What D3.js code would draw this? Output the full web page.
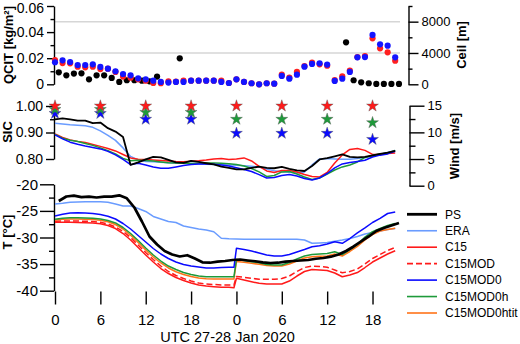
<!DOCTYPE html>
<html><head><meta charset="utf-8">
<script src="https://cdn.jsdelivr.net/npm/d3@7"></script>
<style>body{margin:0;background:#fff}svg{display:block}</style>
</head><body><svg id="c" width="520" height="344"></svg>
<script>
// ---------- DATA ----------
const hours = [0,1,2,3,4,5,6,7,8,9,10,11,12,13,14,15,16,17,18,19,20,21,22,23,24,25,26,27,28,29,30,31,32,33,34,35,36,37,38,39,40,41,42,43,44,45];
const psHours = [0.5,1.5,2.5,3.5,4.5,5.5,6.5,7.5,8.5,9.5,10.5,11.5,12.5,13.5,14.5,15.5,16.5,17.5,18.5,19.5,20.5,21.5,22.5,23.5,24.5,25.5,26.5,27.5,28.5,29.5,30.5,31.5,32.5,33.5,34.5,35.5,36.5,37.5,38.5,39.5,40.5,41.5,42.5,43.5,44.5,45.5];
const modelHours = [0,1,2,3,4,5,6,7,8,9,10,11,12,13,14,15,16,17,18,19,20,21,22,23,23.67,24,25,26,27,28,29,30,31,32,33,34,35,36,37,38,39,40,41,42,43,44,45];
const xTicks = [0,6,12,18,24,30,36,42];

// top panel: QCIT [kg/m2]
const qcitPSHours = [0.5,1.5,2.5,3.5,4.5,5.5,6.5,7.5,8.5,9.5,10.5,11.5,12.5,13.5,16.5,38.5,39.5,40.5,41.5,42.5,43.5,44.5,45.5];
const qcitPS = [0.0092,0.0069,0.0082,0.0084,0.0038,0.0069,0.0069,0.0049,0.0018,0.0031,0.0031,0.0028,0.0023,0.0059,0.0199,0.0322,0.0031,0.0015,0.0008,0.0003,0.0003,0.0003,0.0003];
const qcitC15 = [0.0186,0.0163,0.0161,0.0135,0.0130,0.0135,0.0117,0.0120,0.0095,0.0059,0.0051,0.0038,0.0028,0.0010,0.0008,0.0023,0.0020,0.0028,0.0028,0.0028,0.0028,0.0028,0.0028,0.0010,0.0038,0.0018,0.0008,0.0000,0.0008,0.0005,0.0074,0.0051,0.0095,0.0140,0.0166,0.0153,0.0143,0.0033,0.0061,0.0105,0.0209,0.0217,0.0352,0.0276,0.0245,0.0181];
const qcitC15MOD0 = [0.0169,0.0184,0.0171,0.0148,0.0148,0.0153,0.0133,0.0120,0.0100,0.0079,0.0069,0.0046,0.0038,0.0028,0.0018,0.0013,0.0018,0.0018,0.0028,0.0028,0.0028,0.0028,0.0018,0.0010,0.0038,0.0018,0.0008,0.0000,0.0008,0.0005,0.0064,0.0043,0.0074,0.0135,0.0156,0.0161,0.0151,0.0026,0.0043,0.0095,0.0207,0.0209,0.0378,0.0306,0.0296,0.0207];
const qcitTicks = [0,0.02,0.04,0.06];
const ceilTicks = [0,4000,8000];

// middle panel: wind [m/s] and SIC stars
const windPS = [12.44,12.63,12.44,12.22,12.22,11.73,11.84,10.79,10.15,9.15,3.89,4.36,4.92,5.39,5.30,4.83,4.36,4.27,4.64,4.45,4.21,3.98,3.57,3.33,3.05,3.05,3.33,3.57,3.33,3.27,3.52,3.14,2.89,2.76,3.70,4.92,5.15,5.49,5.86,5.39,5.30,5.39,5.68,5.96,6.20,6.52];
const windERA = [11.69,11.56,11.41,11.32,11.22,10.94,10.28,9.44,8.50,7.09,5.49,4.83,4.55,4.49,4.40,4.32,4.27,4.21,4.14,4.08,4.02,3.98,3.93,3.89,3.83,3.76,3.65,3.52,3.14,2.82,2.63,2.52,2.39,2.58,3.89,5.02,5.11,5.02,4.96,4.96,5.11,5.30,5.58,5.86,6.24,6.62];
const windC15 = [9.72,9.06,8.59,8.31,8.12,7.74,7.37,6.99,6.52,5.86,5.21,4.96,4.92,4.83,4.74,4.64,4.55,4.51,4.59,4.68,4.83,5.02,5.11,4.92,5.02,5.21,4.64,3.61,2.76,2.48,2.86,2.86,2.58,2.11,1.73,1.64,2.48,4.27,5.77,6.80,6.99,6.62,5.86,5.86,6.05,6.15];
const windC15MOD0 = [9.53,8.78,8.16,7.78,7.46,7.18,6.90,6.43,5.77,4.92,3.95,4.21,3.89,3.52,3.27,3.27,3.52,3.80,3.98,4.08,4.08,4.02,3.89,3.70,3.38,3.05,2.67,2.07,1.45,1.54,1.92,2.11,1.82,1.35,1.07,1.45,2.29,3.33,4.08,4.36,4.55,4.77,5.39,5.73,5.96,6.43];
const windC15MOD0h = [9.62,8.91,8.53,8.27,7.93,7.56,7.09,6.58,5.96,5.11,4.70,4.79,4.74,4.61,4.45,4.32,4.27,4.21,4.17,4.21,4.27,4.27,4.21,4.12,3.98,3.70,3.23,2.58,1.73,1.92,2.58,2.67,2.20,1.64,1.17,1.45,2.20,2.95,3.52,3.89,4.45,5.30,5.68,5.96,6.09,6.62];
const starHours = [0,6,12,18,24,30,36,42];
const sicC15 = [1.0,1.0,1.0,1.0,1.0,1.0,1.0,1.0];
const sicC15MOD0h = [0.987,0.987,0.976,0.976,0.95,0.95,0.95,0.937];
const sicC15MOD0 = [0.972,0.972,0.95,0.95,0.897,0.897,0.897,0.874];
const sicTicks = [0.8,0.9,1.0];
const windTicks = [0,5,10,15];

// bottom panel: T [°C]
const tPS = [-23.14,-22.29,-22.14,-22.42,-22.33,-22.48,-22.33,-22.33,-22.07,-22.63,-24.36,-26.99,-29.81,-31.32,-32.54,-33.20,-33.57,-33.33,-33.95,-34.66,-34.74,-34.55,-34.42,-34.23,-34.14,-34.32,-34.47,-34.66,-34.79,-34.74,-34.55,-34.42,-34.32,-34.23,-34.00,-33.85,-33.61,-33.20,-32.54,-31.69,-30.75,-29.81,-28.78,-28.21,-27.74,-27.27];
const tERA = [-23.70,-23.57,-23.38,-23.33,-23.29,-23.27,-23.27,-23.36,-23.70,-24.08,-24.08,-24.55,-25.11,-26.05,-26.52,-26.99,-27.18,-27.84,-28.12,-28.40,-28.59,-28.91,-30.15,-30.24,-30.28,-30.34,-30.34,-30.34,-30.34,-30.34,-30.34,-30.34,-30.34,-30.47,-31.09,-31.03,-30.94,-30.71,-30.47,-30.19,-29.81,-29.34,-29.06,-28.78,-28.50,-28.31];
const tC15 = [-27.14,-27.14,-27.14,-27.18,-27.22,-27.27,-27.42,-27.74,-28.31,-29.25,-30.47,-31.88,-33.29,-34.61,-35.83,-36.77,-37.52,-38.08,-38.55,-38.93,-39.12,-39.25,-39.36,-39.36,-39.44,-37.67,-37.99,-38.31,-38.61,-38.74,-38.74,-38.74,-38.18,-37.24,-36.39,-36.02,-36.11,-36.20,-36.67,-37.37,-37.05,-36.58,-35.64,-34.61,-33.85,-33.10,-32.48];
const tC15MOD = [-26.95,-26.90,-26.90,-26.90,-26.94,-26.99,-27.14,-27.46,-28.03,-28.87,-30.00,-31.41,-32.82,-34.14,-35.36,-36.39,-37.14,-37.71,-38.18,-38.55,-38.74,-38.83,-38.93,-38.93,-38.93,-37.33,-37.48,-37.67,-37.86,-37.86,-37.86,-37.71,-37.24,-36.39,-35.64,-35.36,-35.45,-35.60,-36.11,-36.62,-36.39,-35.92,-34.98,-33.95,-33.20,-32.44,-31.88];
const tC15MOD0 = [-25.96,-25.62,-25.39,-25.34,-25.39,-25.49,-25.68,-26.00,-26.52,-27.37,-28.40,-29.62,-30.85,-32.07,-33.10,-33.95,-34.61,-35.08,-35.36,-35.55,-35.73,-35.73,-35.64,-35.60,-35.60,-32.03,-32.26,-32.54,-32.91,-33.29,-33.48,-33.48,-33.20,-32.73,-32.26,-31.73,-31.54,-31.22,-30.79,-31.09,-30.19,-29.15,-28.21,-27.18,-26.39,-25.49,-25.21];
const tC15MOD0h = [-26.58,-26.39,-26.30,-26.28,-26.33,-26.39,-26.52,-26.80,-27.27,-28.12,-29.25,-30.56,-31.97,-33.29,-34.42,-35.36,-36.02,-36.58,-36.95,-37.24,-37.37,-37.37,-37.37,-37.37,-37.37,-34.14,-34.32,-34.55,-34.74,-35.08,-35.17,-35.17,-34.70,-34.04,-33.48,-33.20,-33.10,-33.01,-32.67,-33.20,-32.26,-31.32,-29.91,-28.91,-28.31,-27.74,-27.37];
const tC15MOD0htit = [-26.71,-26.58,-26.52,-26.52,-26.56,-26.62,-26.75,-27.05,-27.56,-28.40,-29.59,-30.94,-32.35,-33.67,-34.79,-35.73,-36.43,-36.95,-37.33,-37.61,-37.74,-37.80,-37.80,-37.80,-37.80,-34.51,-34.66,-34.85,-35.04,-35.26,-35.36,-35.36,-34.98,-34.42,-33.85,-33.61,-33.53,-33.48,-33.10,-33.48,-32.63,-31.69,-30.47,-29.44,-28.78,-28.50,-28.27];
const tTicks = [-40,-35,-30,-25,-20];

const legendNames = ["PS","ERA","C15","C15MOD","C15MOD0","C15MOD0h","C15MOD0htit"];

// ---------- STYLE ----------
const FONT = '"Liberation Sans", Arial, sans-serif';
const C = {PS:"#000000", ERA:"#6a9cff", C15:"#ff1a1a", C15MOD:"#ff1a1a", C15MOD0:"#0a0aff", C15MOD0h:"#1e9a3a", C15MOD0htit:"#ff7318"};

const svg = d3.select("#c").style("font-family", FONT);

const x = d3.scaleLinear().domain([0,45]).range([55,395.2]);
const yQ = d3.scaleLinear().domain([0,0.06]).range([84.3,6]);
const yCeil = d3.scaleLinear().domain([0,10000]).range([84.3,6]);
const ySIC = d3.scaleLinear().domain([0.8,1.0]).range([159,106]);
const yW = d3.scaleLinear().domain([0,15]).range([185.7,105.7]);
const yT = d3.scaleLinear().domain([-40,-20]).range([290.7,184.3]);

function yAxis(scale, xpos, side, major, minor, majSize, minSize, fmt, fs, pad){
  const mk = side === "left" ? d3.axisLeft : d3.axisRight;
  const g = svg.append("g").attr("transform", `translate(${xpos},0)`);
  g.call(mk(scale).tickValues(major).tickSize(majSize).tickSizeOuter(0).tickPadding(pad).tickFormat(fmt));
  const m = svg.append("g").attr("transform", `translate(${xpos},0)`);
  m.call(mk(scale).tickValues(minor).tickSize(minSize).tickFormat(""));
  m.select(".domain").remove();
  [g,m].forEach(a => {
    a.selectAll("line").attr("stroke","#000").attr("stroke-width",1.4);
    a.selectAll(".domain").attr("stroke","#000").attr("stroke-width",1.4);
    a.selectAll("text").attr("fill","#000").style("font-size", fs+"px").style("font-family", FONT);
  });
  return g;
}

// gridlines (top panel)
svg.append("g").selectAll("line").data([4000,8000]).join("line")
  .attr("x1", x(0)).attr("x2", 400)
  .attr("y1", d => yCeil(d)).attr("y2", d => yCeil(d))
  .attr("stroke","#d6d6d6").attr("stroke-width",1.5);

// axes
const gq = yAxis(yQ, 54, "left", qcitTicks, [0.01,0.03,0.05], 7, 3.5, d => d===0 ? "0" : d3.format(".2f")(d), 14, 3);
gq.selectAll(".tick text").filter(d => d === 0.06).attr("dy","0.45em");
yAxis(yCeil, 408.5, "right", ceilTicks, [2000,6000,10000], 10, 4, d => String(d), 13, 3);
yAxis(ySIC, 54, "left", sicTicks, [0.85,0.95], 8, 4, d3.format(".2f"), 14, 3);
yAxis(yW, 409.5, "right", windTicks, [2.5,7.5,12.5], 15, 6, d => String(d), 13, 3);
yAxis(yT, 54, "left", tTicks, [-37.5,-32.5,-27.5,-22.5], 14, 5, d => String(d), 15, 2);

const gx = svg.append("g").attr("transform","translate(0,291.5)")
  .call(d3.axisBottom(x).tickValues(xTicks).tickSize(13).tickPadding(10).tickFormat(d => d % 24));
gx.select(".domain").remove();
gx.selectAll("line").attr("stroke","#000").attr("stroke-width",1.4);
gx.selectAll("text").attr("fill","#000").style("font-size","15px").style("font-family",FONT);

// axis titles
function vTitle(txt, tx, ty){
  svg.append("text").attr("transform",`translate(${tx},${ty}) rotate(-90)`)
    .attr("text-anchor","middle").style("font-weight","bold").style("font-size","13px").attr("fill","#000").text(txt);
}
vTitle("QCIT [kg/m²]", 12.5, 45);
vTitle("SIC", 11.5, 132);
vTitle("T [°C]", 11.5, 232);
vTitle("Ceil [m]", 466, 45);
vTitle("Wind [m/s]", 459, 146);
svg.append("text").attr("x", 227.5).attr("y", 342).attr("text-anchor","middle")
  .style("font-size","14.5px").attr("fill","#000").text("UTC 27-28 Jan 2020");

// top panel dots
function dots(hs, vs, color){
  svg.append("g").selectAll("circle").data(vs).join("circle")
    .attr("cx",(d,i)=>x(hs[i])).attr("cy",d=>yQ(d)).attr("r",3.1).attr("fill",color);
}
dots(qcitPSHours, qcitPS, "#000");
dots(hours, qcitC15, "#ff2020");
dots(hours, qcitC15MOD0, "#1414ff");

// lines
function line(hs, vs, yS, color, w, dash){
  const l = d3.line().x((d,i)=>x(hs[i])).y(d=>yS(d));
  const p = svg.append("path").attr("d", l(vs)).attr("fill","none").attr("stroke",color).attr("stroke-width",w)
    .attr("stroke-linejoin","round");
  if (dash) p.attr("stroke-dasharray", dash);
}
line(hours, windERA, yW, C.ERA, 1.5);
line(hours, windC15, yW, C.C15, 1.5);
line(hours, windC15MOD0h, yW, C.C15MOD0h, 1.5);
line(hours, windC15MOD0, yW, C.C15MOD0, 1.5);
line(hours, windPS, yW, C.PS, 1.8);

// stars
const star = d3.symbol(d3.symbolStar).size(44);
function stars(vs, color){
  svg.append("g").selectAll("path").data(vs).join("path")
    .attr("d", star).attr("transform",(d,i)=>`translate(${x(starHours[i])},${ySIC(d)})`)
    .attr("fill",color).attr("stroke","#555").attr("stroke-width",0.4);
}
stars(sicC15MOD0, "#0a0aff");
stars(sicC15MOD0h, "#1e9a3a");
stars(sicC15, "#ff1a1a");

// bottom panel lines
line(hours, tERA, yT, C.ERA, 1.5);
line(modelHours, tC15, yT, C.C15, 1.5);
line(modelHours, tC15MOD, yT, C.C15MOD, 1.5, "6,3");
line(modelHours, tC15MOD0htit, yT, C.C15MOD0htit, 1.5);
line(modelHours, tC15MOD0h, yT, C.C15MOD0h, 1.5);
line(modelHours, tC15MOD0, yT, C.C15MOD0, 1.5);
line(psHours, tPS, yT, C.PS, 2.7);

// legend
const lg = svg.append("g");
legendNames.forEach((n,i) => {
  const yy = 214.3 + i*16.45;
  lg.append("line").attr("x1",407).attr("x2",437).attr("y1",yy).attr("y2",yy)
    .attr("stroke",C[n]).attr("stroke-width", n==="PS"?2.8:1.6)
    .attr("stroke-dasharray", n==="C15MOD" ? "6,3" : null);
  lg.append("text").attr("x",445).attr("y",yy).attr("dy","0.35em")
    .style("font-size","12px").attr("fill","#000").text(n);
});
</script></body></html>
